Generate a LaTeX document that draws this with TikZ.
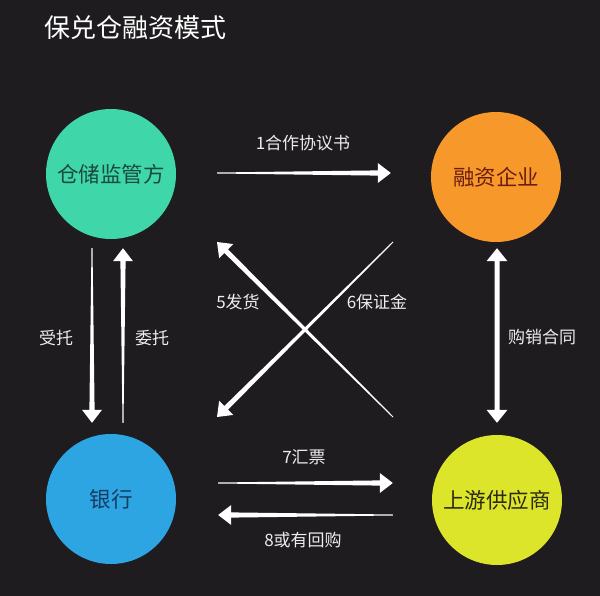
\documentclass[tikz,border=0pt]{standalone}
\usepackage{fontspec}
\setmainfont{Noto Sans CJK SC}
\usetikzlibrary{calc}
\definecolor{bg}{HTML}{1E1C1F}
\definecolor{cgreen}{HTML}{3FD7A9}
\definecolor{corange}{HTML}{F7982A}
\definecolor{cblue}{HTML}{2DA5E2}
\definecolor{cyellow}{HTML}{DDE52B}
\definecolor{tgreen}{HTML}{1C4A3E}
\definecolor{torange}{HTML}{6A1E10}
\definecolor{tblue}{HTML}{163C62}
\definecolor{tyellow}{HTML}{2A2A12}
\definecolor{lbl}{HTML}{EDEDED}
\tikzset{
  circ/.style={circle, minimum size=130pt, inner sep=0pt, font=\fontsize{21.5pt}{26pt}\selectfont},
  lab/.style={text=lbl, inner sep=0pt, font=\fontsize{17pt}{20pt}\selectfont},
  wfill/.style={fill=white}
}
% tapered single arrow: tail #1, tip #2
\newcommand\tarrow[2]{%
  \coordinate (tH) at ($(#2)!13pt!(#1)$);
  \fill[wfill] ($(#1)!0.5pt!-90:(#2)$) -- ($(#1)!0.5pt!90:(#2)$)
    -- ($(tH)!2.6pt!90:(#2)$) -- ($(tH)!10pt!90:(#2)$) -- (#2)
    -- ($(tH)!10pt!-90:(#2)$) -- ($(tH)!2.6pt!-90:(#2)$) -- cycle;}
% uniform double arrow between #1 and #2
\newcommand\darrow[2]{%
  \coordinate (dA) at ($(#1)!13pt!(#2)$);
  \coordinate (dB) at ($(#2)!13pt!(#1)$);
  \fill[wfill] (#1) -- ($(dA)!10.5pt!90:(#2)$) -- ($(dA)!2.5pt!90:(#2)$)
    -- ($(dB)!2.5pt!90:(#2)$) -- ($(dB)!10.5pt!90:(#2)$) -- (#2)
    -- ($(dB)!10.5pt!-90:(#2)$) -- ($(dB)!2.5pt!-90:(#2)$)
    -- ($(dA)!2.5pt!-90:(#2)$) -- ($(dA)!10.5pt!-90:(#2)$) -- cycle;}
\begin{document}
\begin{tikzpicture}[x=1pt, y=-1pt]
\fill[bg] (0,0) rectangle (600,596);
\useasboundingbox (0,0) rectangle (600,596);

\node[anchor=west, text=white, inner sep=0pt, font=\fontsize{26pt}{30pt}\selectfont] (T) at (44,28) {保兑仓融资模式};

\node[circ, fill=cgreen, text=tgreen] (W) at (111,174) {仓储监管方};
\node[circ, fill=corange, text=torange] (F) at (496,177) {融资企业};
\node[circ, fill=cblue, text=tblue] (B) at (111,499) {银行};
\node[circ, fill=cyellow, text=tyellow] (S) at (497,500) {上游供应商};

% 1 agreement
\coordinate (a1s) at ($(W.east)+(41,-1)$);
\coordinate (a1e) at ($(F.west)+(-40,-4)$);
\tarrow{a1s}{a1e}
\node[lab] (L1) at (303,143) {1合作协议书};

% cross
\coordinate (a5s) at ($(S)+(-104,-83)$);
\coordinate (a5e) at ($(W)+(106,68)$);
\tarrow{a5s}{a5e}
\coordinate (a6s) at ($(F)+(-103,65)$);
\coordinate (a6e) at ($(B)+(106,-82)$);
\tarrow{a6s}{a6e}
\node[lab] (L5) at (238,302) {5发货};
\node[lab] (L6) at (377,302) {6保证金};

% left verticals
\coordinate (ads) at ($(W.south)+(-19,9)$);
\coordinate (ade) at ($(B.north)+(-19,-11)$);
\tarrow{ads}{ade}
\coordinate (aus) at ($(B.north)+(12,-11)$);
\coordinate (aue) at ($(W.south)+(12,9)$);
\tarrow{aus}{aue}
\node[lab] (LA) at (56,338) {受托};
\node[lab] (LB) at (152,338) {委托};

% right double
\coordinate (r1) at ($(F.south)+(1,6)$);
\coordinate (r2) at ($(S.north)+(0,-12)$);
\darrow{r1}{r2}
\node[lab] (LC) at (542,337) {购销合同};

% bottom
\coordinate (a7s) at ($(B.east)+(42,-16)$);
\coordinate (a7e) at ($(S.west)+(-39,-17)$);
\tarrow{a7s}{a7e}
\node[lab] (L7) at (304,457) {7汇票};
\coordinate (a8s) at ($(S.west)+(-39,15)$);
\coordinate (a8e) at ($(B.east)+(42,16)$);
\tarrow{a8s}{a8e}
\node[lab] (L8) at (303,540) {8或有回购};
\end{tikzpicture}
\end{document}
